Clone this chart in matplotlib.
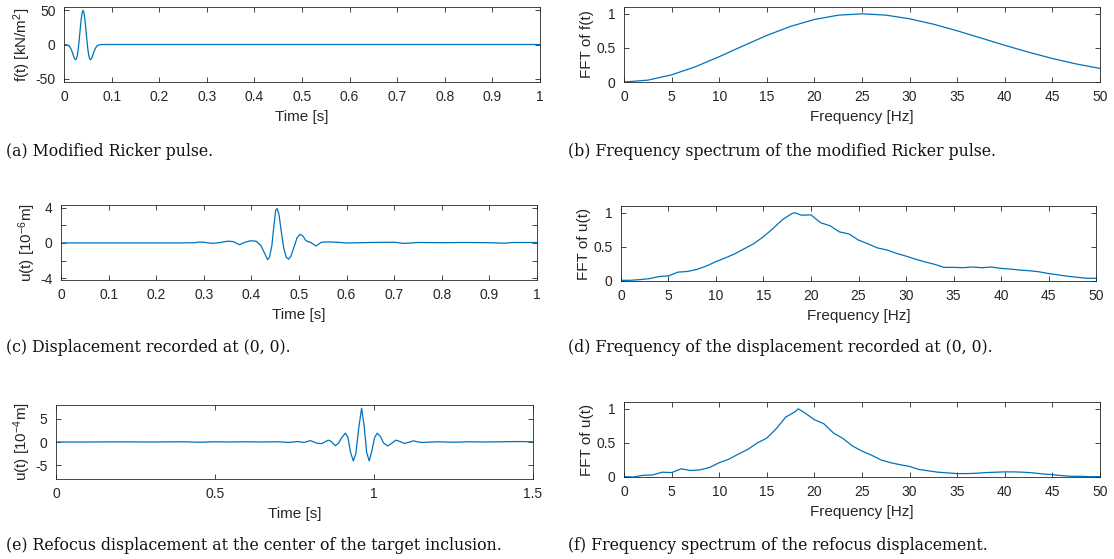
import numpy as np
import matplotlib
matplotlib.use('Agg')
import matplotlib.pyplot as plt

plt.rcParams['font.family'] = ['Liberation Sans', 'DejaVu Sans']
plt.rcParams['mathtext.default'] = 'regular'
plt.rcParams['axes.unicode_minus'] = False

##### (a) modified Ricker pulse #####
t_a = [0, 0.002, 0.004, 0.006, 0.008, 0.010, 0.012, 0.014, 0.016, 0.018,
       0.020, 0.022, 0.024, 0.026, 0.028, 0.030, 0.032, 0.034, 0.036, 0.038,
       0.040, 0.042, 0.044, 0.046, 0.048, 0.050, 0.052, 0.054, 0.056, 0.058,
       0.060, 0.062, 0.064, 0.066, 0.068, 0.070, 0.072, 0.074, 0.076, 0.078,
       0.080, 1.0]
f_a = [0, -0.1, -0.3, -0.5, -1.0, -2.0, -3.4, -5.7, -8.7, -12.5,
       -16.7, -20.3, -22.2, -21.2, -16.0, -6.3, 7.1, 22.3, 36.4, 46.4,
       50.0, 46.4, 36.4, 22.3, 7.1, -6.3, -16.0, -21.2, -22.2, -20.3,
       -16.7, -12.5, -8.7, -5.7, -3.4, -2.0, -1.0, -0.5, -0.3, -0.1,
       0, 0]

##### (b) spectrum of the pulse #####
fr_b = [0, 2.5, 5, 7.5, 10, 12.5, 15, 17.5, 20, 22.5, 25,
        27.5, 30, 32.5, 35, 37.5, 40, 42.5, 45, 47.5, 50]
amp_b = [0, 0.027, 0.105, 0.224, 0.371, 0.529, 0.683, 0.816, 0.917, 0.980, 1.0,
         0.981, 0.927, 0.848, 0.751, 0.645, 0.538, 0.437, 0.345, 0.265, 0.199]

##### (c) displacement recorded at (0,0) #####
t_c = [0, 0.1, 0.2, 0.25, 0.28, 0.29, 0.30, 0.31, 0.32, 0.335, 0.35, 0.362,
       0.375, 0.385, 0.398, 0.41, 0.42, 0.428, 0.434, 0.438, 0.443, 0.447,
       0.451, 0.454, 0.458, 0.463, 0.468, 0.473, 0.478, 0.483, 0.49, 0.496,
       0.502, 0.508, 0.514, 0.519, 0.525, 0.53, 0.536, 0.541, 0.547, 0.56,
       0.58, 0.60, 0.65, 0.70, 0.72, 0.75, 0.8, 0.85, 0.9, 0.93, 0.95, 1.0]
u_c = [0, 0, 0, 0, 0.02, 0.1, 0.08, 0.0, -0.05, 0.05, 0.2, 0.15,
       -0.2, 0.05, 0.25, 0.2, -0.3, -1.2, -1.9, -1.6, -0.3, 1.8,
       3.7, 3.9, 3.2, 1.2, -0.6, -1.6, -1.85, -1.5, -0.4, 0.6,
       0.98, 0.8, 0.3, 0.15, 0.05, -0.15, -0.35, -0.15, 0.08, 0.12,
       0.08, 0.0, 0.05, 0.08, -0.05, 0.05, 0.03, 0.05, 0.03, -0.03, 0.05, 0.05]

##### (d) spectrum of the recorded displacement #####
fr_d = list(range(0, 19)) + [18.3] + list(range(19, 51))
amp_d = [0.01, 0.01, 0.02, 0.035, 0.065, 0.075, 0.13, 0.14, 0.17, 0.22,
         0.285, 0.34, 0.40, 0.475, 0.55, 0.65, 0.77, 0.90, 0.99, 1.0,
         0.965, 0.97, 0.855, 0.81, 0.72, 0.69, 0.60, 0.545, 0.485, 0.455,
         0.405, 0.365, 0.32, 0.28, 0.245, 0.2, 0.2, 0.195, 0.205, 0.195,
         0.205, 0.185, 0.175, 0.16, 0.15, 0.135, 0.11, 0.09, 0.07, 0.055,
         0.04, 0.04]

##### (e) refocus displacement #####
t_e = [0, 0.1, 0.2, 0.3, 0.4, 0.45, 0.5, 0.55, 0.6, 0.65, 0.7, 0.73, 0.76,
       0.78, 0.80, 0.82, 0.835, 0.845, 0.856, 0.866, 0.878, 0.888, 0.898,
       0.910, 0.918, 0.926, 0.935, 0.943, 0.952, 0.961, 0.969, 0.977, 0.985,
       0.993, 1.002, 1.010, 1.02, 1.03, 1.043, 1.055, 1.069, 1.082, 1.095,
       1.11, 1.124, 1.14, 1.15, 1.2, 1.25, 1.3, 1.35, 1.4, 1.45, 1.5]
u_e = [0, 0, 0.03, 0, 0.05, -0.05, 0.05, 0, 0.05, 0, 0.05, -0.1, 0.1,
       -0.1, 0.3, -0.25, -0.35, 0.0, 0.4, 0.1, -0.8, -0.3, 0.9,
       1.9, 1.0, -2.2, -4.1, -2.5, 3.0, 7.3, 3.5, -2.3, -4.1,
       -2.0, 1.0, 1.9, 1.2, -0.2, -0.85, -0.3, 0.4, 0.1, -0.3,
       -0.05, 0.25, 0.0, -0.1, 0.05, -0.05, 0.05, 0, 0.05, 0.1, 0.05]

##### (f) spectrum of the refocus displacement #####
fr_f = list(range(0, 19)) + [18.3] + list(range(19, 51))
amp_f = [0.005, 0.0, 0.025, 0.03, 0.07, 0.065, 0.12, 0.095, 0.105, 0.14,
         0.21, 0.26, 0.335, 0.405, 0.50, 0.57, 0.71, 0.88, 0.96, 1.0,
         0.94, 0.84, 0.78, 0.645, 0.565, 0.455, 0.38, 0.32, 0.25, 0.21,
         0.18, 0.155, 0.11, 0.09, 0.07, 0.06, 0.05, 0.05, 0.055, 0.065,
         0.07, 0.075, 0.075, 0.07, 0.06, 0.045, 0.035, 0.02, 0.01, 0.01,
         0.005, 0.005]

time_ticks = [0, 0.1, 0.2, 0.3, 0.4, 0.5, 0.6, 0.7, 0.8, 0.9, 1]
time_labels = ['0', '0.1', '0.2', '0.3', '0.4', '0.5', '0.6', '0.7', '0.8', '0.9', '1']
freq_ticks = [0, 5, 10, 15, 20, 25, 30, 35, 40, 45, 50]
fft_ticks = [0, 0.5, 1]
fft_labels = ['0', '0.5', '1']

captions = ['(a) Modified Ricker pulse.',
            '(b) Frequency spectrum of the modified Ricker pulse.',
            '(c) Displacement recorded at (0, 0).',
            '(d) Frequency of the displacement recorded at (0, 0).',
            '(e) Refocus displacement at the center of the target inclusion.',
            '(f) Frequency spectrum of the refocus displacement.']

W, H = 1114, 559
fig = plt.figure(figsize=(W / 100, H / 100), dpi=100)
blue = '#0072BD'
dark = '#262626'


def box(l, t, r, b):
    return [l / W, 1 - b / H, (r - l) / W, (b - t) / H]


def panel(rect, x, y, xlim, ylim, xlabel, ylabel):
    ax = fig.add_axes(box(*rect))
    ax.plot(x, y, color=blue, lw=0.9)
    ax.set_xlim(xlim)
    ax.set_ylim(ylim)
    ax.set_xlabel(xlabel, fontsize=11, color=dark, labelpad=4)
    ax.set_ylabel(ylabel, fontsize=11, color=dark, labelpad=2)
    ax.tick_params(direction='in', length=3.5, width=0.6, top=True, right=True,
                   labelsize=10, colors=dark, pad=6)
    for s in ax.spines.values():
        s.set_linewidth(0.6)
        s.set_color(dark)
    return ax


ax = panel((64, 7, 540, 82), t_a, f_a, (0, 1), (-55, 55), 'Time [s]', 'f(t) [kN/m$^2$]')
ax.set_xticks(time_ticks, time_labels)
ax.set_yticks([-50, 0, 50], ['-50', '0', '50'])

ax = panel((624, 7, 1100, 82), fr_b, amp_b, (0, 50), (0, 1.1), 'Frequency [Hz]', 'FFT of f(t)')
ax.set_xticks(freq_ticks, [str(v) for v in freq_ticks])
ax.set_yticks(fft_ticks, fft_labels)

ax = panel((61, 205, 537, 280), t_c, u_c, (0, 1), (-4.2, 4.3), 'Time [s]', 'u(t) [10$^{-6}$m]')
ax.set_xticks(time_ticks, time_labels)
ax.set_yticks([-4, -2, 0, 2, 4], ['-4', '', '0', '', '4'])

ax = panel((621, 206, 1096, 281), fr_d, amp_d, (0, 50), (0, 1.1), 'Frequency [Hz]', 'FFT of u(t)')
ax.set_xticks(freq_ticks, [str(v) for v in freq_ticks])
ax.set_yticks(fft_ticks, fft_labels)

ax = panel((56, 405, 533, 479), t_e, u_e, (0, 1.5), (-8, 8), 'Time [s]', 'u(t) [10$^{-4}$m]')
ax.set_xticks([0, 0.5, 1, 1.5], ['0', '0.5', '1', '1.5'])
ax.set_yticks([-5, 0, 5], ['-5', '0', '5'])

ax = panel((624, 402, 1100, 477), fr_f, amp_f, (0, 50), (0, 1.1), 'Frequency [Hz]', 'FFT of u(t)')
ax.set_xticks(freq_ticks, [str(v) for v in freq_ticks])
ax.set_yticks(fft_ticks, fft_labels)

cap_pos = [(6, 152), (568, 152), (6, 348), (568, 348), (6, 545), (568, 545)]
for (cx, cy), txt in zip(cap_pos, captions):
    fig.text(cx / W, 1 - cy / H, txt, ha='left', va='center',
             family='DejaVu Serif', fontsize=11.3, color='#111111')

fig.savefig('out.png', dpi=100)
